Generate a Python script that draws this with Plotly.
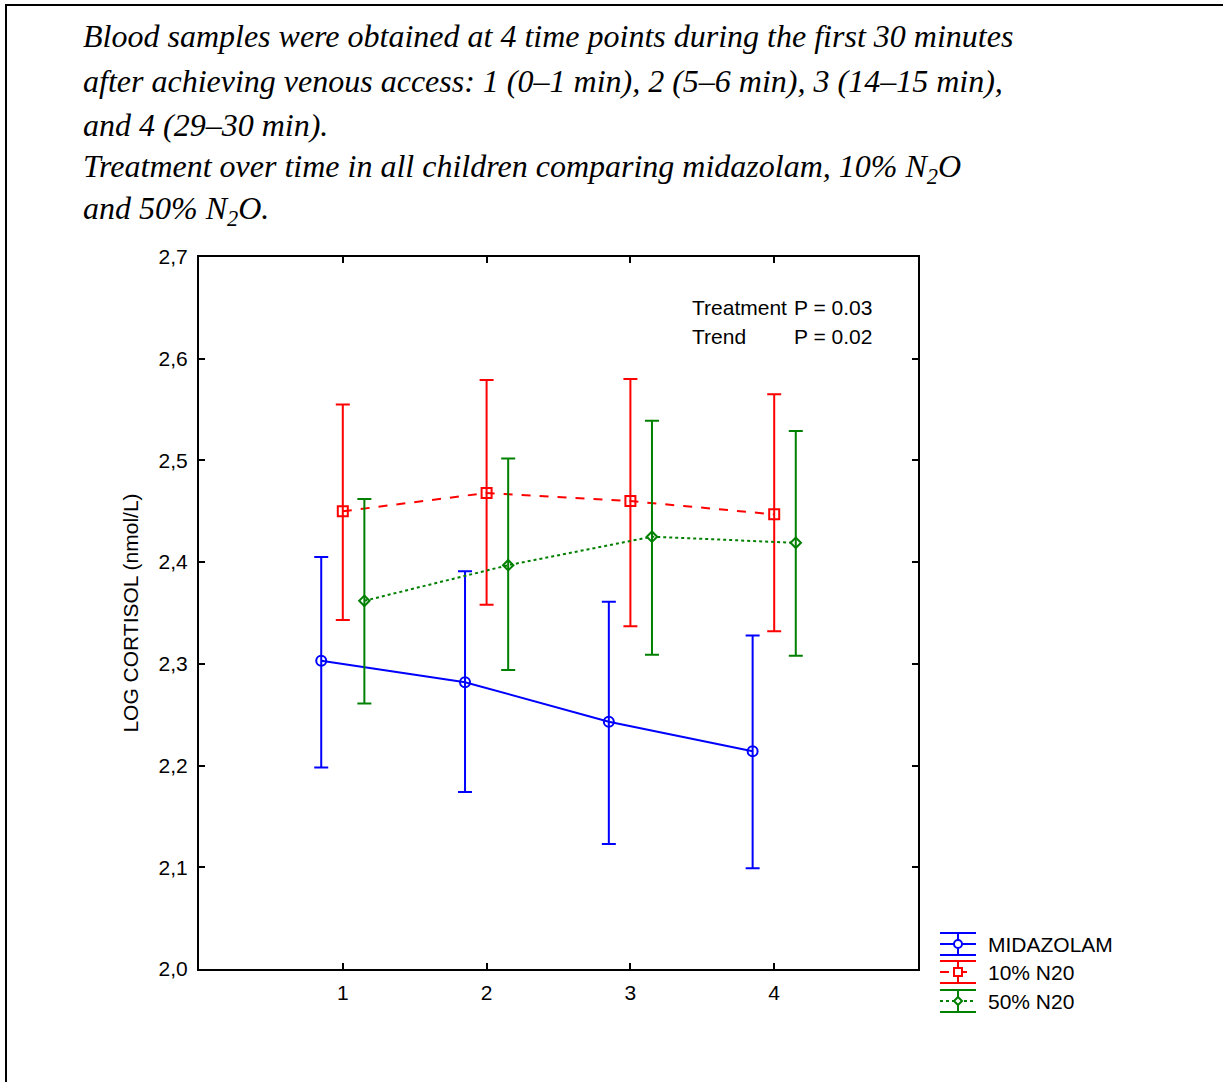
import plotly.graph_objects as go

# ---- data ----
time_points = [1, 2, 3, 4]
tick_labels = ["1", "2", "3", "4"]

mid_mean = [2.303, 2.282, 2.243, 2.214]
mid_upper = [2.405, 2.391, 2.361, 2.328]
mid_lower = [2.198, 2.174, 2.123, 2.099]

n10_mean = [2.450, 2.468, 2.460, 2.447]
n10_upper = [2.555, 2.579, 2.580, 2.565]
n10_lower = [2.343, 2.358, 2.337, 2.332]

n50_mean = [2.362, 2.397, 2.425, 2.419]
n50_upper = [2.462, 2.502, 2.539, 2.529]
n50_lower = [2.261, 2.294, 2.309, 2.308]

series_names = ["MIDAZOLAM", "10% N20", "50% N20"]

# ---- layout geometry (pixels) ----
W, H = 1223, 1082
L, R, T, B = 199, 918, 257, 969
PW, PH = R - L, B - T


def px(x):
    return (x - L) / PW


def py(y):
    return (B - y) / PH


series = [
    (series_names[0], mid_mean, mid_upper, mid_lower, "#0000FF", "solid", "circle-open", -0.15, 10),
    (series_names[1], n10_mean, n10_upper, n10_lower, "#FF0000", "dash", "square-open", 0.0, 10),
    (series_names[2], n50_mean, n50_upper, n50_lower, "#008000", "dot", "diamond-open", 0.15, 8),
]

fig = go.Figure()
for name, mean, up, lo, col, dash, sym, off, msize in series:
    fig.add_trace(go.Scatter(
        x=[t + off for t in time_points],
        y=mean,
        mode="lines+markers",
        name=name,
        line=dict(color=col, width=2, dash=dash),
        marker=dict(symbol=sym, size=msize, color=col, line=dict(color=col, width=2)),
        error_y=dict(type="data", symmetric=False,
                     array=[u - m for u, m in zip(up, mean)],
                     arrayminus=[m - l for m, l in zip(mean, lo)],
                     color=col, thickness=2, width=7),
        showlegend=False,
    ))

axis_font = dict(family="Liberation Sans, Arial, sans-serif", size=21, color="black")

fig.update_layout(
    width=W, height=H,
    margin=dict(l=L, r=W - R, t=T, b=H - B, pad=0),
    paper_bgcolor="white", plot_bgcolor="white",
    separators=",.",
    showlegend=False,
    xaxis=dict(range=[0, 5], tickvals=time_points, ticktext=tick_labels,
               showgrid=False, zeroline=False, showline=True, linecolor="black", linewidth=2,
               mirror="ticks", ticks="inside", ticklen=6, tickwidth=1.5, tickcolor="black",
               tickfont=axis_font, ticklabelstandoff=4),
    yaxis=dict(range=[2.0, 2.7], dtick=0.1, tick0=2.0, tickformat=".1f",
               showgrid=False, zeroline=False, showline=True, linecolor="black", linewidth=2,
               mirror="ticks", ticks="inside", ticklen=6, tickwidth=1.5, tickcolor="black",
               tickfont=axis_font, ticklabelstandoff=5,
               title=dict(text="LOG CORTISOL (nmol/L)", font=axis_font, standoff=14)),
)

# ---- title text lines ----
title_font = dict(family="Liberation Serif, Times New Roman, serif", size=32, color="black")
title_lines = [
    ("<i>Blood samples were obtained at 4 time points during the first 30 minutes</i>", 36),
    ("<i>after achieving venous access: 1 (0\u20131 min), 2 (5\u20136 min), 3 (14\u201315 min),</i>", 81),
    ("<i>and 4 (29\u201330 min).</i>", 125),
    ("<i>Treatment over time in all children comparing midazolam, 10% N<sub>2</sub>O</i>", 169),
    ("<i>and 50% N<sub>2</sub>O.</i>", 211),
]
for txt, y in title_lines:
    fig.add_annotation(text=txt, x=px(81), y=py(y), xref="paper", yref="paper",
                       xanchor="left", yanchor="middle", showarrow=False, font=title_font)

# ---- statistics annotation ----
stat_font = dict(family="Liberation Sans, Arial, sans-serif", size=21, color="black")
for lbl, pv, y in [("Treatment", "P = 0.03", 307), ("Trend", "P = 0.02", 336)]:
    fig.add_annotation(text=lbl, x=px(690), y=py(y), xref="paper", yref="paper",
                       xanchor="left", yanchor="middle", showarrow=False, font=stat_font)
    fig.add_annotation(text=pv, x=px(874), y=py(y), xref="paper", yref="paper",
                       xanchor="right", yanchor="middle", showarrow=False, font=stat_font)

# ---- custom legend ----
leg_rows = [944, 972, 1001]
gx0, gx1, gc = 940, 976, 958
for (name, mean, up, lo, col, dash, sym, off, msize), yc in zip(series, leg_rows):
    ytop, ybot = yc - 11, yc + 11
    for yy in (ytop, ybot):
        fig.add_shape(type="line", xref="paper", yref="paper",
                      x0=px(gx0), x1=px(gx1), y0=py(yy), y1=py(yy),
                      line=dict(color=col, width=2))
    fig.add_shape(type="line", xref="paper", yref="paper",
                  x0=px(gc), x1=px(gc), y0=py(ytop), y1=py(ybot),
                  line=dict(color=col, width=2))
    fig.add_shape(type="line", xref="paper", yref="paper",
                  x0=px(gx0), x1=px(gx1), y0=py(yc), y1=py(yc),
                  line=dict(color=col, width=2, dash=dash))
    r = 4
    if sym.startswith("circle"):
        fig.add_shape(type="circle", xref="paper", yref="paper",
                      x0=px(gc - r), x1=px(gc + r), y0=py(yc - r), y1=py(yc + r),
                      line=dict(color=col, width=2), fillcolor="white")
    elif sym.startswith("square"):
        fig.add_shape(type="rect", xref="paper", yref="paper",
                      x0=px(gc - r), x1=px(gc + r), y0=py(yc - r), y1=py(yc + r),
                      line=dict(color=col, width=2), fillcolor="white")
    else:
        path = "M {} {} L {} {} L {} {} L {} {} Z".format(
            px(gc), py(yc - r), px(gc + r), py(yc), px(gc), py(yc + r), px(gc - r), py(yc))
        fig.add_shape(type="path", xref="paper", yref="paper", path=path,
                      line=dict(color=col, width=2), fillcolor="white")
    fig.add_annotation(text=name, x=px(986), y=py(yc), xref="paper", yref="paper",
                       xanchor="left", yanchor="middle", showarrow=False, font=stat_font)

# ---- outer frame (top and left edges) ----
fig.add_shape(type="line", xref="paper", yref="paper",
              x0=px(5), x1=px(W + 5), y0=py(5), y1=py(5), line=dict(color="black", width=2))
fig.add_shape(type="line", xref="paper", yref="paper",
              x0=px(6), x1=px(6), y0=py(4), y1=py(H + 5), line=dict(color="black", width=2))

fig.write_html("out.html", config={"displayModeBar": False},
               post_script="document.body.style.margin='0px';document.body.style.overflow='hidden';")
